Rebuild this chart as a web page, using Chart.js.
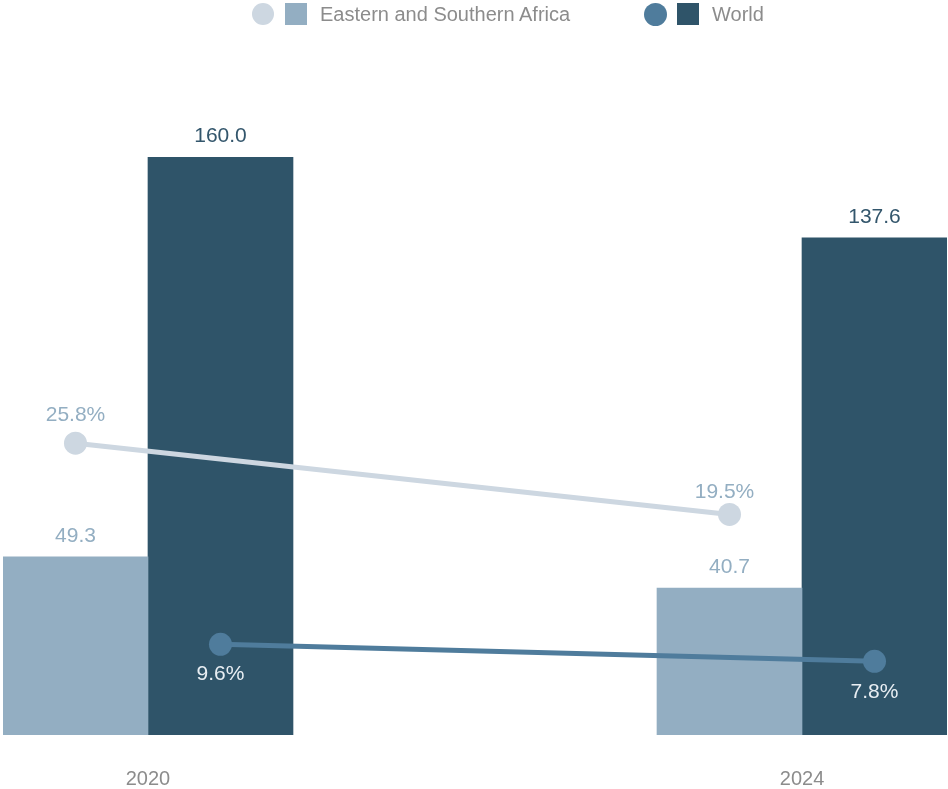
<!DOCTYPE html>
<html>
<head>
<meta charset="utf-8">
<script src="https://cdn.jsdelivr.net/npm/chart.js@4/dist/chart.umd.min.js"></script>
<style>
  html, body { margin: 0; padding: 0; background: #ffffff; }
  #wrap { position: relative; width: 948px; height: 789px; }
  #chart { position: absolute; left: 0; top: 0; }
  .lg { position: absolute; }
  .dot { border-radius: 50%; }
  .txt { font-family: "Liberation Sans", Arial, sans-serif; font-size: 20px; color: #8c8c8c; line-height: 28px; top: 0; white-space: nowrap; }
</style>
</head>
<body>
<div id="wrap">
  <canvas id="chart" width="948" height="789"></canvas>
  <div class="lg dot" style="left:252px;top:3px;width:22px;height:22px;background:#cdd7e1;"></div>
  <div class="lg" style="left:285px;top:3px;width:22px;height:22px;background:#93aec2;"></div>
  <div class="lg txt" style="left:320px;">Eastern and Southern Africa</div>
  <div class="lg dot" style="left:644px;top:3px;width:23px;height:23px;background:#4f7c9c;"></div>
  <div class="lg" style="left:677px;top:3px;width:22px;height:22px;background:#2f5469;"></div>
  <div class="lg txt" style="left:712px;">World</div>
</div>
<script>
// ---- data ----
const categories = ['2020', '2024'];
const esaValues = [49.3, 40.7];
const worldValues = [160.0, 137.6];
const esaPercent = [25.8, 19.5];
const worldPercent = [9.6, 7.8];

const toXY = (arr) => arr.map((v, i) => ({ x: i, y: v }));

// moves line points onto the centre of the paired bar, and draws value labels
const helper = {
  id: 'helper',
  afterDatasetsUpdate(chart) {
    chart.data.datasets.forEach((ds, di) => {
      if (ds.type === 'line' && ds.pairBar !== undefined) {
        const barMeta = chart.getDatasetMeta(ds.pairBar);
        const meta = chart.getDatasetMeta(di);
        meta.data.forEach((pt, j) => { pt.x = barMeta.data[j].x; });
      }
    });
  },
  afterDatasetsDraw(chart) {
    const ctx = chart.ctx;
    ctx.save();
    ctx.textAlign = 'center';
    ctx.textBaseline = 'middle';
    chart.data.datasets.forEach((ds, di) => {
      const lab = ds.valueLabel;
      if (!lab) return;
      const meta = chart.getDatasetMeta(di);
      ctx.font = lab.font;
      ctx.fillStyle = lab.color;
      meta.data.forEach((el, j) => {
        const dy = Array.isArray(lab.dy) ? lab.dy[j] : lab.dy;
        const dx = Array.isArray(lab.dx) ? lab.dx[j] : (lab.dx || 0);
        const v = ds.data[j].y;
        ctx.fillText(v.toFixed(1) + (lab.suffix || ''), el.x + dx, el.y + dy);
      });
    });
    ctx.restore();
  }
};

const valFont = '21px "Liberation Sans", Arial, sans-serif';

new Chart(document.getElementById('chart'), {
  type: 'bar',
  data: {
    datasets: [
      {
        type: 'bar', label: 'Eastern and Southern Africa', data: toXY(esaValues),
        backgroundColor: '#93aec2', barThickness: 145, order: 2, yAxisID: 'y',
        valueLabel: { font: valFont, color: '#93aec2', dy: -21 }
      },
      {
        type: 'bar', label: 'World', data: toXY(worldValues),
        backgroundColor: '#2f5469', barThickness: 145, order: 2, yAxisID: 'y',
        valueLabel: { font: valFont, color: '#33566c', dy: -21 }
      },
      {
        type: 'line', label: 'ESA %', data: toXY(esaPercent), pairBar: 0,
        borderColor: '#cdd7e1', backgroundColor: '#cdd7e1', borderWidth: 5,
        pointRadius: 11.5, pointBorderWidth: 0, pointBackgroundColor: '#cdd7e1',
        order: 1, yAxisID: 'yE', tension: 0,
        valueLabel: { font: valFont, color: '#93aec2', dy: [-28, -22], dx: [0, -5], suffix: '%' }
      },
      {
        type: 'line', label: 'World %', data: toXY(worldPercent), pairBar: 1,
        borderColor: '#4f7c9c', backgroundColor: '#4f7c9c', borderWidth: 5,
        pointRadius: 11.5, pointBorderWidth: 0, pointBackgroundColor: '#4f7c9c',
        order: 1, yAxisID: 'yW', tension: 0,
        valueLabel: { font: valFont, color: '#e8eef3', dy: [30, 31], suffix: '%' }
      }
    ]
  },
  options: {
    responsive: false,
    animation: false,
    events: [],
    layout: { autoPadding: false, padding: { top: 157, left: 3, right: 1, bottom: 0 } },
    plugins: { legend: { display: false }, tooltip: { enabled: false } },
    scales: {
      x: {
        type: 'linear', min: -0.2217, max: 1.2217, offset: false, bounds: 'data',
        grid: { display: false, drawTicks: false, offset: false }, border: { display: false },
        afterBuildTicks: (scale) => { scale.ticks = categories.map((_, i) => ({ value: i })); },
        afterFit: (scale) => { scale.height = 54; scale.paddingLeft = 0; scale.paddingRight = 0; },
        ticks: {
          callback: (v) => categories[v] !== undefined ? categories[v] : '',
          color: '#8c8c8c', padding: 32, maxRotation: 0,
          font: { family: '"Liberation Sans", Arial, sans-serif', size: 20 }
        }
      },
      y: { display: false, min: 0, max: 160 },
      yE: { display: false, min: 0, max: 51.1 },
      yW: { display: false, min: 0, max: 61.2 }
    }
  },
  plugins: [helper]
});
</script>
</body>
</html>
